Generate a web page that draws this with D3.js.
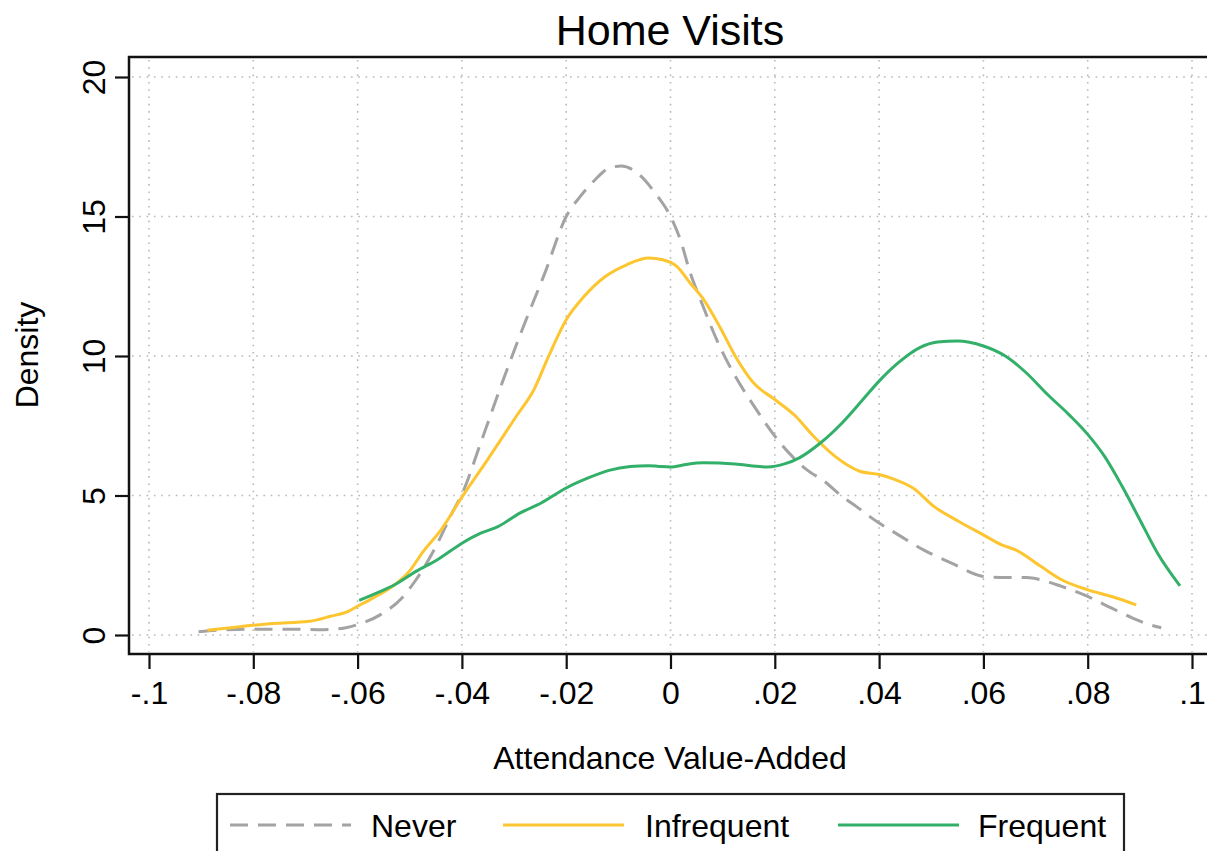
<!DOCTYPE html>
<html>
<head>
<meta charset="utf-8">
<script src="https://cdn.jsdelivr.net/npm/d3@7"></script>
<style>
  html, body { margin: 0; padding: 0; background: #fff; }
  svg { display: block; font-family: "Liberation Sans", Arial, Helvetica, sans-serif; }
</style>
</head>
<body>
<svg id="chart" width="1207" height="851"></svg>
<script>
// Kernel density estimates of attendance value-added by home-visit frequency
const xTicks = [-0.1, -0.08, -0.06, -0.04, -0.02, 0, 0.02, 0.04, 0.06, 0.08, 0.1];
const xTickLabels = ["-.1", "-.08", "-.06", "-.04", "-.02", "0", ".02", ".04", ".06", ".08", ".1"];
const yTicks = [0, 5, 10, 15, 20];
const yTickLabels = ["0", "5", "10", "15", "20"];

const neverX = [-0.0905, -0.0851, -0.0796, -0.0727, -0.0666, -0.0625, -0.06, -0.0556, -0.0515, -0.0488, -0.0453, -0.0419, -0.0399, -0.0364, -0.0323, -0.0282, -0.0241, -0.02, -0.0173, -0.0145, -0.0118, -0.0094, -0.0063, -0.0029, 0.0, 0.0019, 0.0038, 0.0057, 0.0097, 0.0124, 0.0165, 0.02, 0.0233, 0.0261, 0.0295, 0.0329, 0.0356, 0.04, 0.0437, 0.0485, 0.054, 0.06, 0.0642, 0.0683, 0.071, 0.075, 0.08, 0.0846, 0.0887, 0.0914, 0.0941];
const neverY = [0.12, 0.19, 0.21, 0.21, 0.19, 0.25, 0.37, 0.73, 1.33, 1.98, 3.06, 4.37, 5.09, 6.88, 9.03, 11.06, 12.97, 15.0, 15.72, 16.31, 16.73, 16.81, 16.55, 15.83, 15.0, 14.16, 12.97, 12.04, 10.24, 9.28, 8.07, 7.13, 6.41, 5.93, 5.51, 4.97, 4.61, 4.01, 3.59, 3.05, 2.57, 2.10, 2.06, 2.06, 1.98, 1.74, 1.38, 0.96, 0.60, 0.40, 0.26];

const infrequentX = [-0.0888, -0.083, -0.0762, -0.0693, -0.0652, -0.0618, -0.06, -0.057, -0.0529, -0.0501, -0.0474, -0.044, -0.0399, -0.0351, -0.0296, -0.0262, -0.0234, -0.02, -0.0166, -0.0125, -0.0084, -0.0042, -0.0015, 0.0012, 0.0038, 0.0063, 0.0097, 0.0124, 0.0159, 0.02, 0.024, 0.0274, 0.0315, 0.0363, 0.04, 0.0431, 0.0465, 0.0505, 0.0553, 0.06, 0.0635, 0.0662, 0.071, 0.075, 0.08, 0.0846, 0.0893];
const infrequentY = [0.17, 0.29, 0.41, 0.49, 0.67, 0.85, 1.03, 1.33, 1.80, 2.28, 3.00, 3.77, 4.97, 6.28, 7.83, 8.79, 9.98, 11.30, 12.13, 12.85, 13.27, 13.51, 13.45, 13.21, 12.61, 12.04, 10.96, 10.0, 9.04, 8.44, 7.84, 7.13, 6.41, 5.87, 5.75, 5.57, 5.27, 4.61, 4.07, 3.59, 3.23, 3.05, 2.46, 1.98, 1.62, 1.38, 1.08];

const frequentX = [-0.0597, -0.0556, -0.0529, -0.0488, -0.0447, -0.0399, -0.0364, -0.033, -0.0289, -0.0248, -0.02, -0.0159, -0.0118, -0.0077, -0.0042, -0.0022, 0.0, 0.0029, 0.0063, 0.0124, 0.0165, 0.0186, 0.022, 0.0247, 0.0288, 0.0329, 0.0369, 0.04, 0.0437, 0.0478, 0.0512, 0.055, 0.06, 0.0642, 0.0682, 0.0723, 0.0764, 0.08, 0.0832, 0.0866, 0.09, 0.0934, 0.0977];
const frequentY = [1.24, 1.56, 1.80, 2.28, 2.70, 3.30, 3.65, 3.89, 4.37, 4.73, 5.27, 5.62, 5.90, 6.04, 6.07, 6.04, 6.02, 6.11, 6.17, 6.13, 6.05, 6.02, 6.14, 6.35, 6.89, 7.60, 8.44, 9.10, 9.76, 10.30, 10.50, 10.54, 10.36, 10.0, 9.40, 8.62, 7.90, 7.19, 6.41, 5.33, 4.13, 2.93, 1.76];

const seriesNames = ["Never", "Infrequent", "Frequent"];
const seriesColors = ["#a3a3a3", "#fdc530", "#32b06a"];
const seriesDash = ["18,10", null, null];
const seriesData = [
  d3.zip(neverX, neverY),
  d3.zip(infrequentX, infrequentY),
  d3.zip(frequentX, frequentY)
];

const svg = d3.select("#chart");
const frame = { left: 129, right: 1213, top: 57, bottom: 654 };
const labelFont = 32;

const x = d3.scaleLinear().domain([-0.1, 0.1]).range([149, 1192]);
const y = d3.scaleLinear().domain([0, 20]).range([635, 77]);

// dotted grid
const grid = svg.append("g");
grid.selectAll("line.vg").data(xTicks).join("line")
  .attr("x1", d => x(d)).attr("x2", d => x(d))
  .attr("y1", frame.top + 3).attr("y2", frame.bottom - 2)
  .attr("stroke", "#b8b8b8").attr("stroke-width", 1.6)
  .attr("stroke-dasharray", "1.6,5.7");
grid.selectAll("line.hg").data(yTicks).join("line")
  .attr("x1", frame.left + 3).attr("x2", frame.right)
  .attr("y1", d => y(d)).attr("y2", d => y(d))
  .attr("stroke", "#b8b8b8").attr("stroke-width", 1.6)
  .attr("stroke-dasharray", "1.6,5.7");

// density curves
const line = d3.line().x(d => x(d[0])).y(d => y(d[1])).curve(d3.curveMonotoneX);
svg.append("g").selectAll("path").data(seriesData).join("path")
  .attr("d", line)
  .attr("fill", "none")
  .attr("stroke", (d, i) => seriesColors[i])
  .attr("stroke-width", 3)
  .attr("stroke-linecap", "butt")
  .attr("stroke-linejoin", "round")
  .attr("stroke-dasharray", (d, i) => seriesDash[i]);

// plot frame
svg.append("rect")
  .attr("x", frame.left).attr("y", frame.top)
  .attr("width", frame.right - frame.left).attr("height", frame.bottom - frame.top)
  .attr("fill", "none").attr("stroke", "#111").attr("stroke-width", 2.5);

// x axis
const xAxis = d3.axisBottom(x).tickValues(xTicks).tickSize(14).tickPadding(12)
  .tickFormat((d, i) => xTickLabels[i]);
const gx = svg.append("g").attr("transform", `translate(0,${frame.bottom + 1})`).call(xAxis);
gx.select(".domain").remove();
gx.selectAll(".tick line").attr("stroke", "#111").attr("stroke-width", 2.2);
gx.selectAll(".tick text").attr("font-size", labelFont).attr("fill", "#000")
  .attr("font-family", "'Liberation Sans', Arial, sans-serif");

// y axis, labels rotated
const yAxis = d3.axisLeft(y).tickValues(yTicks).tickSize(13).tickPadding(0)
  .tickFormat((d, i) => yTickLabels[i]);
const gy = svg.append("g").attr("transform", `translate(${frame.left - 1},0)`).call(yAxis);
gy.select(".domain").remove();
gy.selectAll(".tick line").attr("stroke", "#111").attr("stroke-width", 2.2);
gy.selectAll(".tick text")
  .attr("x", null).attr("dy", null)
  .attr("transform", "translate(-23,0) rotate(-90)")
  .attr("text-anchor", "middle")
  .attr("font-size", labelFont).attr("fill", "#000")
  .attr("font-family", "'Liberation Sans', Arial, sans-serif");

// titles
svg.append("text").attr("x", 670).attr("y", 45)
  .attr("text-anchor", "middle").attr("font-size", 43).attr("fill", "#000")
  .text("Home Visits");
svg.append("text").attr("x", 670).attr("y", 769)
  .attr("text-anchor", "middle").attr("font-size", labelFont).attr("fill", "#000")
  .text("Attendance Value-Added");
svg.append("text").attr("transform", "translate(38,355) rotate(-90)")
  .attr("text-anchor", "middle").attr("font-size", labelFont).attr("fill", "#000")
  .text("Density");

// legend
const legend = svg.append("g");
legend.append("rect").attr("x", 217).attr("y", 794).attr("width", 907).attr("height", 70)
  .attr("fill", "#fff").attr("stroke", "#222").attr("stroke-width", 2.2);
const legendLineX = [230, 503, 838];
const legendTextX = [371, 645, 978];
seriesNames.forEach((name, i) => {
  legend.append("line")
    .attr("x1", legendLineX[i]).attr("x2", legendLineX[i] + 121)
    .attr("y1", 825).attr("y2", 825)
    .attr("stroke", seriesColors[i]).attr("stroke-width", 3)
    .attr("stroke-dasharray", seriesDash[i]);
  legend.append("text").attr("x", legendTextX[i]).attr("y", 837)
    .attr("font-size", labelFont).attr("fill", "#000").text(name);
});
</script>
</body>
</html>
